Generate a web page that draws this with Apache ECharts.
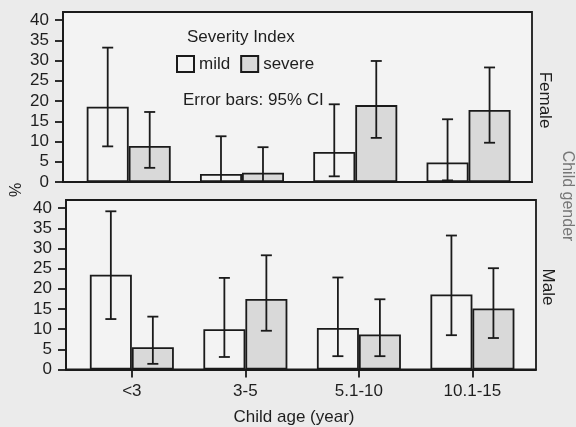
<!DOCTYPE html>
<html>
<head>
<meta charset="utf-8">
<script src="https://cdn.jsdelivr.net/npm/echarts@6/dist/echarts.min.js"></script>
<style>
  html, body { margin: 0; padding: 0; background: #ebebeb; }
  #chart { width: 576px; height: 427px; }
</style>
</head>
<body>
<div id="chart"></div>
<script>
// categories and tick labels
const ageGroups = ['<3', '3-5', '5.1-10', '10.1-15']
const yTicks = [0, 5, 10, 15, 20, 25, 30, 35, 40]

// Female: bar height and 95% CI
const femaleMild = [18.6, 2.0, 7.4, 4.8]
const femaleMildLo = [8.8, 0, 1.4, 0.4]
const femaleMildHi = [33.2, 11.3, 19.2, 15.5]
const femaleSevere = [8.9, 2.3, 19.0, 17.8]
const femaleSevereLo = [3.5, 0, 10.9, 9.7]
const femaleSevereHi = [17.3, 8.6, 29.9, 28.3]

// Male
const maleMild = [23.5, 10.0, 10.3, 18.6]
const maleMildLo = [12.5, 3.1, 3.3, 8.5]
const maleMildHi = [39.2, 22.7, 22.8, 33.2]
const maleSevere = [5.5, 17.5, 8.7, 15.1]
const maleSevereLo = [1.4, 9.6, 3.3, 7.8]
const maleSevereHi = [13.1, 28.3, 17.4, 25.1]

const ink = '#1a1a1a'
const txt = '#1e1e1e'
const font = 'Liberation Sans, Arial, sans-serif'
const barW = 42
const lw = 1.8
const xPos = ageGroups.map((_, i) => i + 1)

const chart = echarts.init(document.getElementById('chart'))

function barSeries(name, vals, grid, fill) {
  return {
    name, type: 'bar', xAxisIndex: grid, yAxisIndex: grid,
    barWidth: barW, barGap: '0%',
    itemStyle: { color: fill, borderColor: ink, borderWidth: lw },
    data: vals.map((v, i) => [xPos[i], v]),
    z: 2
  }
}

function errSeries(lo, hi, grid, dx) {
  return {
    type: 'custom', xAxisIndex: grid, yAxisIndex: grid, z: 5,
    silent: true,
    data: lo.map((l, i) => [xPos[i], l, hi[i]]),
    encode: { x: 0, y: [1, 2] },
    renderItem(params, api) {
      const top = api.coord([api.value(0), api.value(2)])
      const bot = api.coord([api.value(0), api.value(1)])
      const x = top[0] + dx
      const st = { stroke: ink, lineWidth: lw }
      return {
        type: 'group',
        children: [
          { type: 'line', shape: { x1: x, y1: top[1], x2: x, y2: bot[1] }, style: st },
          { type: 'line', shape: { x1: x - 5.5, y1: top[1], x2: x + 5.5, y2: top[1] }, style: st },
          { type: 'line', shape: { x1: x - 5.5, y1: bot[1], x2: x + 5.5, y2: bot[1] }, style: st }
        ]
      }
    }
  }
}

function xAxis(grid, labels) {
  return {
    type: 'value', gridIndex: grid, min: 0.42, max: 4.56,
    splitLine: { show: false },
    axisLine: { show: true, onZero: false, lineStyle: { color: ink, width: lw } },
    axisTick: { show: labels, customValues: xPos, length: 8, lineStyle: { color: ink, width: lw } },
    axisLabel: {
      show: labels, customValues: xPos, margin: 13,
      color: txt, fontSize: 17, fontFamily: font,
      formatter: v => ageGroups[Math.round(v) - 1] || ''
    }
  }
}

function yAxis(grid) {
  return {
    type: 'value', gridIndex: grid, min: 0, max: 42,
    splitLine: { show: false },
    axisLine: { show: true, lineStyle: { color: ink, width: lw } },
    axisTick: { customValues: yTicks, length: 8, lineStyle: { color: ink, width: lw } },
    axisLabel: { customValues: yTicks, margin: 14, color: txt, fontSize: 17, fontFamily: font }
  }
}

const gridStyle = { show: true, backgroundColor: '#f3f3f3', borderColor: ink, borderWidth: lw }

chart.setOption({
  animation: false,
  backgroundColor: '#ebebeb',
  grid: [
    { left: 63, top: 12, width: 469, height: 170, ...gridStyle },
    { left: 66, top: 200, width: 470, height: 169.5, ...gridStyle }
  ],
  xAxis: [xAxis(0, false), xAxis(1, true)],
  yAxis: [yAxis(0), yAxis(1)],
  legend: {
    data: ['mild', 'severe'],
    left: 176, top: 55, padding: 0,
    itemWidth: 17, itemHeight: 16, itemGap: 10,
    icon: 'rect',
    textStyle: { color: txt, fontSize: 17, fontFamily: font }
  },
  graphic: [
    { type: 'text', left: 187, top: 29, style: { text: 'Severity Index', fill: txt, font: '17px ' + font } },
    { type: 'text', left: 183, top: 92, style: { text: 'Error bars: 95% CI', fill: txt, font: '17px ' + font } },
    { type: 'text', x: 17, y: 190, rotation: Math.PI / 2,
      style: { text: '%', fill: txt, font: '16px ' + font, align: 'center', verticalAlign: 'middle' } },
    { type: 'text', x: 545, y: 100, rotation: -Math.PI / 2,
      style: { text: 'Female', fill: txt, font: '17px ' + font, align: 'center', verticalAlign: 'middle' } },
    { type: 'text', x: 548, y: 287, rotation: -Math.PI / 2,
      style: { text: 'Male', fill: txt, font: '17px ' + font, align: 'center', verticalAlign: 'middle' } },
    { type: 'text', x: 567, y: 196, rotation: -Math.PI / 2,
      style: { text: 'Child gender', fill: '#777', font: '16px ' + font, align: 'center', verticalAlign: 'middle' } },
    { type: 'text', x: 294, y: 417,
      style: { text: 'Child age (year)', fill: txt, font: '17px ' + font, align: 'center', verticalAlign: 'middle' } }
  ],
  series: [
    barSeries('mild', femaleMild, 0, '#f3f3f3'),
    barSeries('severe', femaleSevere, 0, '#d9d9d9'),
    barSeries('mild', maleMild, 1, '#f3f3f3'),
    barSeries('severe', maleSevere, 1, '#d9d9d9'),
    errSeries(femaleMildLo, femaleMildHi, 0, -barW / 2),
    errSeries(femaleSevereLo, femaleSevereHi, 0, barW / 2),
    errSeries(maleMildLo, maleMildHi, 1, -barW / 2),
    errSeries(maleSevereLo, maleSevereHi, 1, barW / 2)
  ]
})
</script>
</body>
</html>
